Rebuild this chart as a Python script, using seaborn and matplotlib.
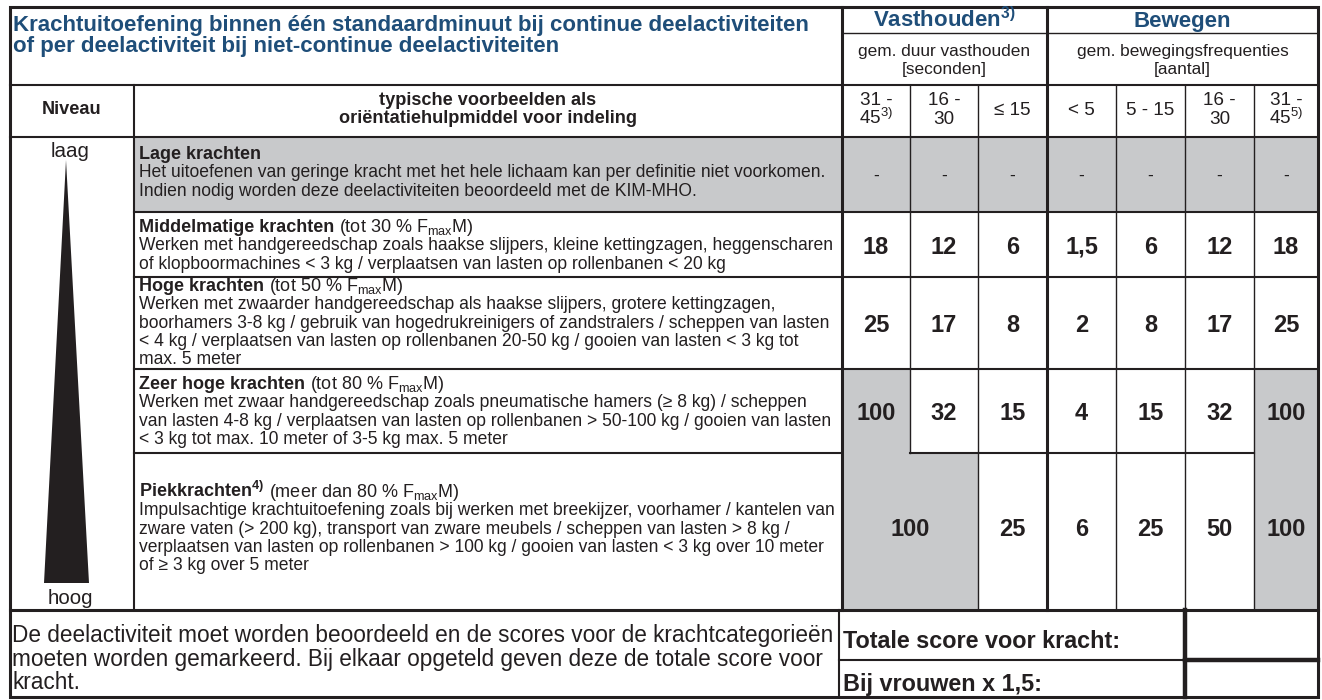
import matplotlib
matplotlib.use("Agg")
import matplotlib.pyplot as plt
from matplotlib import font_manager
from matplotlib.patches import Rectangle, Polygon
import seaborn as sns

# ===============================================
# INHOUD VAN DE TABEL
# ===============================================
title_lines = ["Krachtuitoefening binnen één standaardminuut bij continue deelactiviteiten",
               "of per deelactiviteit bij niet-continue deelactiviteiten"]
hold_head = r"Vasthouden$^{\mathregular{3)}}$"
hold_sub = ["gem. duur vasthouden", "[seconden]"]
move_head = "Bewegen"
move_sub = ["gem. bewegingsfrequenties", "[aantal]"]
niveau_label = "Niveau"
example_head = ["typische voorbeelden als", "oriëntatiehulpmiddel voor indeling"]
col_labels = [["31 -", r"45$^{\mathregular{3)}}$"], ["16 -", "30"], ["≤ 15"],
              ["< 5"], ["5 - 15"], ["16 -", "30"], ["31 -", r"45$^{\mathregular{5)}}$"]]

level_names = ["Lage krachten", "Middelmatige krachten", "Hoge krachten",
               "Zeer hoge krachten", r"Piekkrachten$^{\mathregular{4)}}$"]
level_notes = ["",
               r"(tot 30 % F$_{\mathregular{max}}$M)",
               r"(tot 50 % F$_{\mathregular{max}}$M)",
               r"(tot 80 % F$_{\mathregular{max}}$M)",
               r"(meer dan 80 % F$_{\mathregular{max}}$M)"]
level_desc = [
    ["Het uitoefenen van geringe kracht met het hele lichaam kan per definitie niet voorkomen.",
     "Indien nodig worden deze deelactiviteiten beoordeeld met de KIM-MHO."],
    ["Werken met handgereedschap zoals haakse slijpers, kleine kettingzagen, heggenscharen",
     "of klopboormachines < 3 kg / verplaatsen van lasten op rollenbanen < 20 kg"],
    ["Werken met zwaarder handgereedschap als haakse slijpers, grotere kettingzagen,",
     "boorhamers 3-8 kg / gebruik van hogedrukreinigers of zandstralers / scheppen van lasten",
     "< 4 kg / verplaatsen van lasten op rollenbanen 20-50 kg / gooien van lasten < 3 kg tot",
     "max. 5 meter"],
    ["Werken met zwaar handgereedschap zoals pneumatische hamers (≥ 8 kg) / scheppen",
     "van lasten 4-8 kg / verplaatsen van lasten op rollenbanen > 50-100 kg / gooien van lasten",
     "< 3 kg tot max. 10 meter of 3-5 kg max. 5 meter"],
    ["Impulsachtige krachtuitoefening zoals bij werken met breekijzer, voorhamer / kantelen van",
     "zware vaten (> 200 kg), transport van zware meubels / scheppen van lasten > 8 kg /",
     "verplaatsen van lasten op rollenbanen > 100 kg / gooien van lasten < 3 kg over 10 meter",
     "of ≥ 3 kg over 5 meter"],
]

# scores per niveau (kolommen: vasthouden 31-45, 16-30, <=15 | bewegen <5, 5-15, 16-30, 31-45)
scores = [["-", "-", "-", "-", "-", "-", "-"],
          ["18", "12", "6", "1,5", "6", "12", "18"],
          ["25", "17", "8", "2", "8", "17", "25"],
          ["100", "32", "15", "4", "15", "32", "100"],
          ["100", "", "25", "6", "25", "50", "100"]]   # piek: 100 over twee kolommen
grey = [[1, 1, 1, 1, 1, 1, 1],
        [0, 0, 0, 0, 0, 0, 0],
        [0, 0, 0, 0, 0, 0, 0],
        [1, 0, 0, 0, 0, 0, 1],
        [1, 1, 0, 0, 0, 0, 1]]

footer_lines = ["De deelactiviteit moet worden beoordeeld en de scores voor de krachtcategorieën",
                "moeten worden gemarkeerd. Bij elkaar opgeteld geven deze de totale score voor",
                "kracht."]
footer_labels = ["Totale score voor kracht:", "Bij vrouwen x 1,5:"]

# ===============================================
# LAYOUT (pixels)
# ===============================================
W, H = 1322, 700
X0, X_NIV, X_TXT = 10, 134, 139
col_edges = [842, 910, 978, 1047, 1116, 1185, 1254, 1318]
Y_TOP, Y_H1, Y_H2, Y_BODY = 7, 33, 85, 137
row_edges = [137, 212, 277, 369, 453, 610]
title_y = [152, 225, 284, 382, 490]
num_y = [174, 245, 323, 411, 528]
Y_FMID, Y_BOT = 660, 697
X_FOOT, X_BOX = 839, 1185

INK = "#231f20"
BLUE = "#1f4e79"
GREY = "#c8c9cb"

sns.set_theme(style="white")
available = {f.name for f in font_manager.fontManager.ttflist}


def pick(*names):
    for n in names:
        if n in available:
            return n
    return "DejaVu Sans"


SANS = pick("Liberation Sans", "Arial", "DejaVu Sans")
NARROW = pick("Liberation Sans Narrow", "Arial Narrow", SANS)
plt.rcParams["font.family"] = [SANS, "DejaVu Sans"]

fig = plt.figure(figsize=(W / 100, H / 100), dpi=100)
ax = fig.add_axes([0, 0, 1, 1])
ax.set_xlim(0, W)
ax.set_ylim(H, 0)
ax.axis("off")
renderer = fig.canvas.get_renderer()


def put(x, y, s, size, weight="normal", color=INK, ha="left", family=None):
    # y = visueel midden van de hoofdletters
    yb = y + 0.36 * size * 100 / 72
    return ax.text(x, yb, s, fontsize=size, fontweight=weight, color=color, ha=ha,
                   va="baseline", family=family or [SANS, "DejaVu Sans"], zorder=5)


def width_of(s, size, weight="normal", family=None):
    t = put(0, 0, s, size, weight, family=family)
    w = t.get_window_extent(renderer).width
    t.remove()
    return w


def fit(s, target, weight="normal", family=None, ref=12.0):
    return ref * target / width_of(s, ref, weight, family)


def hline(y, x1, x2, lw):
    ax.plot([x1, x2], [y, y], color=INK, lw=lw, solid_capstyle="projecting", zorder=4)


def vline(x, y1, y2, lw):
    ax.plot([x, x], [y1, y2], color=INK, lw=lw, solid_capstyle="projecting", zorder=4)


THIN, MED, THICK, HEAVY = 1.0, 1.5, 2.2, 3.2

# lettergroottes afgestemd op de regelbreedtes
title_fs = fit(title_lines[0], 796, "bold")
body_fs = min(fit(s, 700) for d in level_desc for s in d)
level_fs = body_fs * 1.03
sub_fs = fit(move_sub[0], 211)
col_fs = fit("5 - 15", 48)
bold_fs = fit(example_head[1], 295, "bold")
num_fs = 17
lh_fs = fit("hoog", 46)
foot_fs = fit(footer_lines[0], 823, family=[NARROW, SANS])
flab_fs = fit(footer_labels[0], 276, "bold", family=[NARROW, SANS])

# ===============================================
# GRIJZE VLAKKEN
# ===============================================
ax.add_patch(Rectangle((X_NIV, row_edges[0]), col_edges[0] - X_NIV,
                       row_edges[1] - row_edges[0], color=GREY, lw=0, zorder=1))
for i, row in enumerate(grey):
    for j, g in enumerate(row):
        if g:
            ax.add_patch(Rectangle((col_edges[j], row_edges[i]), col_edges[j + 1] - col_edges[j],
                                   row_edges[i + 1] - row_edges[i], color=GREY, lw=0, zorder=1))

# ===============================================
# LIJNEN
# ===============================================
hline(Y_H1, col_edges[0], col_edges[-1], THIN)
hline(Y_H2, X0, col_edges[-1], MED)
hline(Y_BODY, X0, col_edges[-1], MED)
vline(X_NIV, Y_H2, row_edges[-1], MED)
for y in row_edges[1:4]:
    hline(y, X_NIV, col_edges[-1], MED)
hline(row_edges[4], X_NIV, col_edges[0], MED)
hline(row_edges[4], col_edges[1], col_edges[6], MED)
for j in (1, 2, 4, 5, 6):
    y_end = row_edges[4] if j == 1 else row_edges[-1]
    vline(col_edges[j], Y_H2, y_end, THIN)
vline(col_edges[0], Y_TOP, row_edges[-1], THICK)
vline(col_edges[3], Y_TOP, row_edges[-1], THICK)
hline(row_edges[-1], X0, col_edges[-1], THICK)
vline(X_FOOT, row_edges[-1], Y_BOT, MED)
vline(X_BOX, row_edges[-1], Y_BOT, HEAVY)
hline(Y_FMID, X_FOOT, X_BOX, MED)
hline(Y_FMID, X_BOX, col_edges[-1], HEAVY)
ax.add_patch(Rectangle((X0, Y_TOP), col_edges[-1] - X0, Y_BOT - Y_TOP, fill=False,
                       ec=INK, lw=THICK, zorder=4))

# ===============================================
# KOPTEKSTEN
# ===============================================
put(X0 + 3, 23, title_lines[0], title_fs, "bold", BLUE)
put(X0 + 3, 44, title_lines[1], title_fs, "bold", BLUE)
hold_mid = (col_edges[0] + col_edges[3]) / 2
move_mid = (col_edges[3] + col_edges[-1]) / 2
put(hold_mid, 19, hold_head, title_fs, "bold", BLUE, ha="center")
put(move_mid, 19, move_head, title_fs, "bold", BLUE, ha="center")
for k, (a, b) in enumerate(zip(hold_sub, move_sub)):
    put(hold_mid, 50 + 17.5 * k, a, sub_fs, ha="center")
    put(move_mid, 50 + 17.5 * k, b, sub_fs, ha="center")
put((X0 + X_NIV) / 2, 107, niveau_label, bold_fs, "bold", ha="center")
for k, s in enumerate(example_head):
    put((X_NIV + col_edges[0]) / 2, 98 + 18 * k, s, bold_fs, "bold", ha="center")
for j, lab in enumerate(col_labels):
    xc = (col_edges[j] + col_edges[j + 1]) / 2
    y0 = 108 - 9.5 * (len(lab) - 1)
    for k, s in enumerate(lab):
        put(xc, y0 + 19 * k, s, col_fs, ha="center")

# ===============================================
# NIVEAU-KOLOM
# ===============================================
put(70, 150, "laag", lh_fs, ha="center")
put(70, 597, "hoog", lh_fs, ha="center")
ax.add_patch(Polygon([(66, 160), (44, 583), (89, 583)], closed=True, color=INK, lw=0, zorder=3))

# ===============================================
# RIJEN MET VOORBEELDEN EN SCORES
# ===============================================
TITLE_GAP, LINE_GAP = 19, 18.2
for i in range(len(level_names)):
    y0 = title_y[i]
    t = put(X_TXT, y0, level_names[i], level_fs, "bold")
    if level_notes[i]:
        w = t.get_window_extent(renderer).width
        put(X_TXT + w, y0, " " + level_notes[i], level_fs)
    for k, s in enumerate(level_desc[i]):
        put(X_TXT, y0 + TITLE_GAP + LINE_GAP * k, s, body_fs)

    for j, val in enumerate(scores[i]):
        if not val:
            continue
        xc = (col_edges[j] + col_edges[j + 1]) / 2
        if i == 4 and j == 0:
            xc = (col_edges[0] + col_edges[2]) / 2
        if val == "-":
            put(xc, num_y[i], val, body_fs, ha="center")
        else:
            put(xc, num_y[i], val, num_fs, "bold", ha="center", family=[NARROW, SANS])

# ===============================================
# VOETTEKST
# ===============================================
for k, s in enumerate(footer_lines):
    put(X0 + 2, 634 + 23.5 * k, s, foot_fs, family=[NARROW, SANS])
put(X_FOOT + 4, 640, footer_labels[0], flab_fs, "bold", family=[NARROW, SANS])
put(X_FOOT + 4, 683, footer_labels[1], flab_fs, "bold", family=[NARROW, SANS])

fig.savefig("out.png", dpi=100)
